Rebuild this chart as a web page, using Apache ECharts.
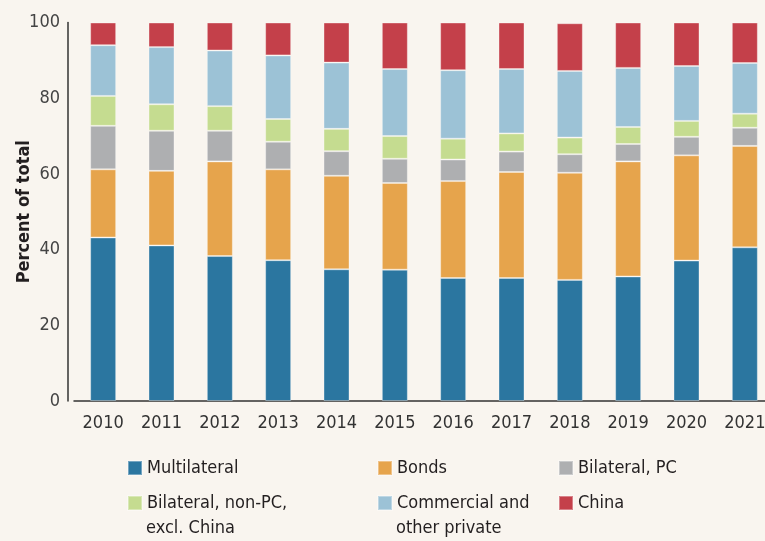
<!DOCTYPE html>
<html>
<head>
<meta charset="utf-8">
<style>
  html, body { margin: 0; padding: 0; background: #f9f5ef; }
  #chart { width: 765px; height: 541px; }
</style>
<script src="https://cdn.jsdelivr.net/npm/echarts@6/dist/echarts.min.js"></script>
</head>
<body>
<div id="chart"></div>
<script>
// years on the x axis
const years = ['2010', '2011', '2012', '2013', '2014', '2015', '2016', '2017', '2018', '2019', '2020', '2021']

// share of total, percent
const multilateral = [43.2, 41.1, 38.3, 37.2, 34.8, 34.7, 32.5, 32.5, 32.0, 32.9, 37.1, 40.6]
const bonds        = [18.0, 19.7, 25.0, 24.0, 24.7, 22.9, 25.6, 28.0, 28.3, 30.4, 27.8, 26.8]
const bilateralPC  = [11.5, 10.6,  8.1,  7.3,  6.5,  6.4,  5.7,  5.4,  4.9,  4.6,  4.9,  4.8]
const nonPC        = [ 7.9,  7.0,  6.5,  6.0,  5.9,  6.0,  5.5,  4.8,  4.4,  4.5,  4.2,  3.7]
const commercial   = [13.4, 15.1, 14.7, 16.8, 17.5, 17.7, 18.1, 17.0, 17.6, 15.6, 14.5, 13.4]
const china        = [ 6.0,  6.5,  7.4,  8.7, 10.6, 12.3, 12.6, 12.3, 12.6, 12.0, 11.5, 10.7]

const yTicks = [0, 20, 40, 60, 80, 100]

const fontNarrow = '"Liberation Sans Narrow", "DejaVu Sans Condensed", sans-serif'

const seriesDefs = [
  { name: 'Multilateral', data: multilateral, color: '#2b76a0' },
  { name: 'Bonds', data: bonds, color: '#e6a44c' },
  { name: 'Bilateral, PC', data: bilateralPC, color: '#aeafb1' },
  { name: 'Bilateral, non-PC, excl. China', data: nonPC, color: '#c5dc90' },
  { name: 'Commercial and other private', data: commercial, color: '#9cc2d6' },
  { name: 'China', data: china, color: '#c4404a' }
]

// legend slots: [left, top]
const legendPos = [
  [127, 459], [377, 459], [558, 459],
  [127, 494], [377, 494], [558, 494]
]
const legendLabel = {
  'Bilateral, non-PC, excl. China': 'Bilateral, non-PC,',
  'Commercial and other private': 'Commercial and'
}

const chart = echarts.init(document.getElementById('chart'))

const option = {
  backgroundColor: '#f9f5ef',
  animation: false,
  textStyle: { fontFamily: fontNarrow },
  grid: { left: 74, right: -9, top: 22.5, bottom: 140, containLabel: false, outerBoundsMode: 'none' },
  xAxis: {
    type: 'category',
    data: years,
    axisLine: { lineStyle: { color: '#333', width: 1.5 } },
    axisTick: { show: false },
    axisLabel: { color: '#333', fontSize: 18, margin: 13, fontFamily: fontNarrow }
  },
  yAxis: {
    type: 'value',
    min: 0,
    max: 100,
    interval: 20,
    offset: 6,
    name: 'Percent of total',
    nameLocation: 'middle',
    nameGap: 35,
    nameMoveOverlap: false,
    nameTextStyle: { color: '#231f20', fontSize: 18, fontWeight: 'bold', fontFamily: fontNarrow },
    axisLine: { show: true, lineStyle: { color: '#333', width: 1.5 } },
    axisTick: { show: false },
    splitLine: { show: false },
    axisLabel: {
      color: '#444', fontSize: 18, margin: 8, fontFamily: fontNarrow,
      formatter: v => yTicks.includes(v) ? String(v) : ''
    }
  },
  legend: seriesDefs.map((s, i) => ({
    data: [s.name],
    left: legendPos[i][0],
    top: legendPos[i][1],
    padding: 0,
    icon: 'rect',
    itemWidth: 14,
    itemHeight: 14,
    selectedMode: false,
    formatter: name => legendLabel[name] || name,
    textStyle: { color: '#231f20', fontSize: 18, fontFamily: fontNarrow }
  })),
  graphic: [
    { type: 'text', left: 146, top: 519, style: { text: 'excl. China', fill: '#231f20', font: '18px ' + fontNarrow } },
    { type: 'text', left: 396, top: 519, style: { text: 'other private', fill: '#231f20', font: '18px ' + fontNarrow } }
  ],
  series: seriesDefs.map(s => ({
    name: s.name,
    type: 'bar',
    stack: 'total',
    barWidth: 26,
    data: s.data,
    itemStyle: { color: s.color, borderColor: 'rgba(255,255,255,0.35)', borderWidth: 1 }
  }))
}

chart.setOption(option)
</script>
</body>
</html>
